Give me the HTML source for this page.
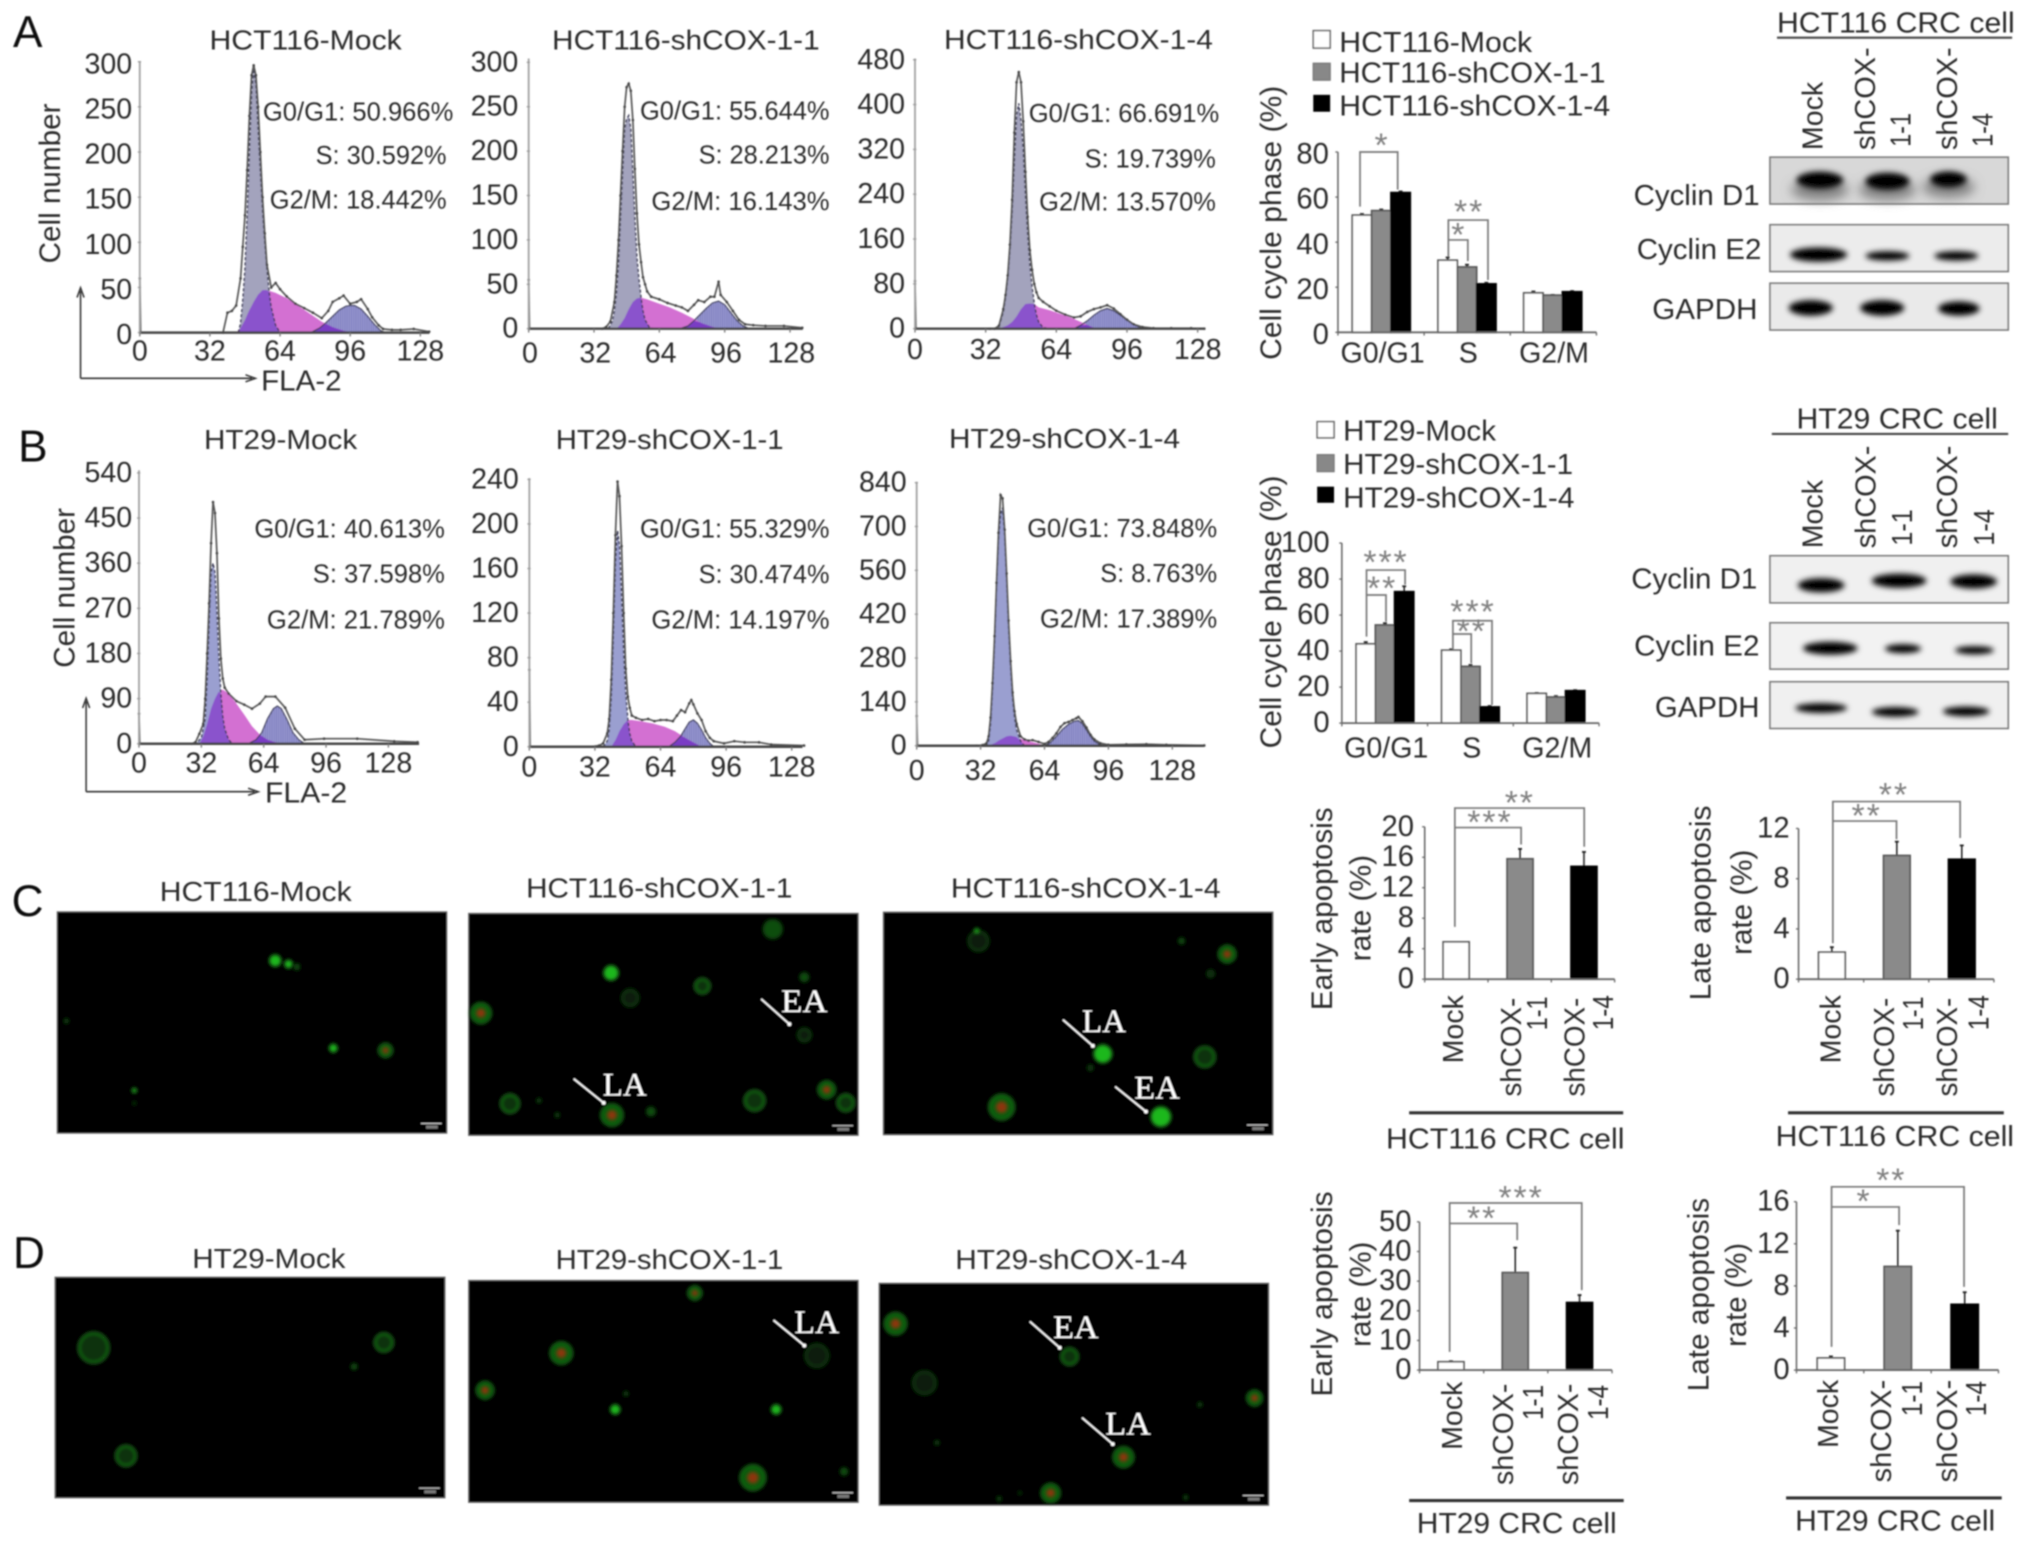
<!DOCTYPE html>
<html lang="en">
<head>
<meta charset="utf-8">
<title>Cell cycle and apoptosis figure</title>
<style>
html,body{margin:0;padding:0;background:#fff;}
svg{display:block;}
text{font-family:"Liberation Sans",sans-serif;fill:#2c2c2c;dominant-baseline:central;}
.title{font-size:21.5px;}
.pct{font-size:20px;}
.letter{font-size:34px;fill:#111;}
.axt{font-size:23px;}
.lbl{font-size:22px;}
.star{font-size:26px;fill:#808080;letter-spacing:1.5px;text-anchor:middle;}
.ann{font-family:"Liberation Serif",serif;font-size:25px;fill:#fff;}
.br{fill:none;stroke:#777;stroke-width:1.3;}
.rule{stroke:#333;stroke-width:2.4;}
.ar{stroke:#fff;stroke-width:1.3;}
.box{stroke:#7a7a7a;stroke-width:1.3;}
.band{fill:#060606;filter:url(#bandBlur);}
</style>
</head>
<body>
<svg xmlns="http://www.w3.org/2000/svg" viewBox="0 0 1562 1190" width="2029" height="1546" preserveAspectRatio="none">
<defs>
<filter id="soft" filterUnits="userSpaceOnUse" x="0" y="0" width="1562" height="1190"><feGaussianBlur stdDeviation="0.55"/></filter>
<filter id="bandBlur" x="-30%" y="-80%" width="160%" height="260%"><feGaussianBlur stdDeviation="2.2"/></filter>
<filter id="smear" x="-30%" y="-80%" width="160%" height="260%"><feGaussianBlur stdDeviation="4"/></filter>
<filter id="cellBlur" x="-60%" y="-60%" width="220%" height="220%"><feGaussianBlur stdDeviation="1.5"/></filter>
<pattern id="hatch" width="1.7" height="4" patternUnits="userSpaceOnUse"><rect width="1.7" height="4" fill="#9c9cd4"/><rect width="0.6" height="4" fill="#6c6cb0"/></pattern>
</defs>
<rect width="1562" height="1190" fill="#fff"/>
<g filter="url(#soft)">

<!-- panel letters -->
<text class="letter" x="10" y="25">A</text>
<text class="letter" x="14" y="344">B</text>
<text class="letter" x="9" y="694">C</text>
<text class="letter" x="10" y="965">D</text>

<!-- histogram layers filled by script -->
<g id="histograms"></g>

<!-- histogram titles -->
<text class="title" x="161.3" y="30.8" textLength="148" lengthAdjust="spacingAndGlyphs">HCT116-Mock</text>
<text class="title" x="425" y="30.8" textLength="206" lengthAdjust="spacingAndGlyphs">HCT116-shCOX-1-1</text>
<text class="title" x="726.7" y="30.3" textLength="207" lengthAdjust="spacingAndGlyphs">HCT116-shCOX-1-4</text>
<text class="title" x="157" y="338.2" textLength="118" lengthAdjust="spacingAndGlyphs">HT29-Mock</text>
<text class="title" x="427.8" y="338.2" textLength="175.4" lengthAdjust="spacingAndGlyphs">HT29-shCOX-1-1</text>
<text class="title" x="730.6" y="337.4" textLength="177.8" lengthAdjust="spacingAndGlyphs">HT29-shCOX-1-4</text>

<!-- histogram percentages -->
<text class="pct" x="202.4" y="86" textLength="146.6" lengthAdjust="spacingAndGlyphs">G0/G1: 50.966%</text>
<text class="pct" x="243" y="119.3" textLength="100.8" lengthAdjust="spacingAndGlyphs">S: 30.592%</text>
<text class="pct" x="207.7" y="153.5" textLength="136.1" lengthAdjust="spacingAndGlyphs">G2/M: 18.442%</text>
<text class="pct" x="492.7" y="85.2" textLength="145.9" lengthAdjust="spacingAndGlyphs">G0/G1: 55.644%</text>
<text class="pct" x="537.8" y="118.8" textLength="100.8" lengthAdjust="spacingAndGlyphs">S: 28.213%</text>
<text class="pct" x="501.5" y="154.7" textLength="137.1" lengthAdjust="spacingAndGlyphs">G2/M: 16.143%</text>
<text class="pct" x="792" y="87" textLength="146.6" lengthAdjust="spacingAndGlyphs">G0/G1: 66.691%</text>
<text class="pct" x="835" y="122" textLength="101" lengthAdjust="spacingAndGlyphs">S: 19.739%</text>
<text class="pct" x="800" y="155" textLength="136" lengthAdjust="spacingAndGlyphs">G2/M: 13.570%</text>
<text class="pct" x="195.8" y="406.7" textLength="146.7" lengthAdjust="spacingAndGlyphs">G0/G1: 40.613%</text>
<text class="pct" x="240.8" y="441.4" textLength="101.7" lengthAdjust="spacingAndGlyphs">S: 37.598%</text>
<text class="pct" x="205.5" y="476.7" textLength="137" lengthAdjust="spacingAndGlyphs">G2/M: 21.789%</text>
<text class="pct" x="492.7" y="406.7" textLength="145.9" lengthAdjust="spacingAndGlyphs">G0/G1: 55.329%</text>
<text class="pct" x="537.8" y="442" textLength="100.8" lengthAdjust="spacingAndGlyphs">S: 30.474%</text>
<text class="pct" x="501.5" y="476.7" textLength="137.1" lengthAdjust="spacingAndGlyphs">G2/M: 14.197%</text>
<text class="pct" x="790.8" y="406.6" textLength="146.2" lengthAdjust="spacingAndGlyphs">G0/G1: 73.848%</text>
<text class="pct" x="847" y="441" textLength="90" lengthAdjust="spacingAndGlyphs">S: 8.763%</text>
<text class="pct" x="800.6" y="476" textLength="136.4" lengthAdjust="spacingAndGlyphs">G2/M: 17.389%</text>

<!-- histogram axis titles and arrows -->
<text class="axt" x="38.9" y="202.7" transform="rotate(-90 38.9 202.7)" textLength="123" lengthAdjust="spacingAndGlyphs">Cell number</text>
<text class="axt" x="50" y="514" transform="rotate(-90 50 514)" textLength="123" lengthAdjust="spacingAndGlyphs">Cell number</text>
<path d="M62 291.2V224M59.3 229L62 221.5L64.7 229M62 291.2H194M189 288.5L196.6 291.2L189 293.9" fill="none" stroke="#333" stroke-width="1.2"/>
<path d="M66.3 609.4V540M63.6 545L66.3 537.5L69 545M66.3 609.4H196M191 606.7L198.8 609.4L191 612.1" fill="none" stroke="#333" stroke-width="1.2"/>
<text class="lbl" x="201" y="293.8" textLength="62" lengthAdjust="spacingAndGlyphs">FLA-2</text>
<text class="lbl" x="204" y="610.7" textLength="63.3" lengthAdjust="spacingAndGlyphs">FLA-2</text>

<!-- bar chart layers filled by script -->
<g id="barcharts"></g>

<!-- phase legends -->
<g>
<rect x="1011" y="23.6" width="13" height="13.4" fill="#fff" stroke="#666" stroke-width="1.2"/>
<rect x="1011" y="48.7" width="13" height="13" fill="#888" stroke="#777" stroke-width="1"/>
<rect x="1011" y="73" width="13" height="13" fill="#000"/>
<text class="lbl" x="1031" y="33" textLength="148.5" lengthAdjust="spacingAndGlyphs">HCT116-Mock</text>
<text class="lbl" x="1031" y="56.5" textLength="205" lengthAdjust="spacingAndGlyphs">HCT116-shCOX-1-1</text>
<text class="lbl" x="1031" y="82" textLength="208.6" lengthAdjust="spacingAndGlyphs">HCT116-shCOX-1-4</text>
</g>
<g>
<rect x="1014" y="324.6" width="13" height="12.4" fill="#fff" stroke="#666" stroke-width="1.2"/>
<rect x="1014" y="350" width="13" height="13" fill="#888" stroke="#777" stroke-width="1"/>
<rect x="1014" y="374.6" width="13" height="12.4" fill="#000"/>
<text class="lbl" x="1034" y="332" textLength="117.7" lengthAdjust="spacingAndGlyphs">HT29-Mock</text>
<text class="lbl" x="1034" y="358" textLength="177" lengthAdjust="spacingAndGlyphs">HT29-shCOX-1-1</text>
<text class="lbl" x="1034" y="383.6" textLength="178" lengthAdjust="spacingAndGlyphs">HT29-shCOX-1-4</text>
</g>

<!-- bar chart titles -->
<text class="axt" x="979" y="277" transform="rotate(-90 979 277)" textLength="211" lengthAdjust="spacingAndGlyphs">Cell cycle phase (%)</text>
<text class="axt" x="979" y="576" transform="rotate(-90 979 576)" textLength="210" lengthAdjust="spacingAndGlyphs">Cell cycle phase (%)</text>
<text class="axt" x="1018" y="777.5" transform="rotate(-90 1018 777.5)" textLength="156" lengthAdjust="spacingAndGlyphs">Early apoptosis</text>
<text class="axt" x="1047.8" y="740" transform="rotate(-90 1047.8 740)" textLength="82" lengthAdjust="spacingAndGlyphs">rate (%)</text>
<text class="axt" x="1309.6" y="770" transform="rotate(-90 1309.6 770)" textLength="150" lengthAdjust="spacingAndGlyphs">Late apoptosis</text>
<text class="axt" x="1341" y="735" transform="rotate(-90 1341 735)" textLength="81" lengthAdjust="spacingAndGlyphs">rate (%)</text>
<text class="axt" x="1018" y="1075" transform="rotate(-90 1018 1075)" textLength="158" lengthAdjust="spacingAndGlyphs">Early apoptosis</text>
<text class="axt" x="1047.8" y="1036.7" transform="rotate(-90 1047.8 1036.7)" textLength="81" lengthAdjust="spacingAndGlyphs">rate (%)</text>
<text class="axt" x="1308" y="1071" transform="rotate(-90 1308 1071)" textLength="149" lengthAdjust="spacingAndGlyphs">Late apoptosis</text>
<text class="axt" x="1337" y="1036.7" transform="rotate(-90 1337 1036.7)" textLength="80" lengthAdjust="spacingAndGlyphs">rate (%)</text>

<!-- significance brackets -->
<g>
<path class="br" d="M1047 159V117H1076V146"/>
<path class="br" d="M1115 197.6V169.4H1145.5V215.5"/>
<path class="br" d="M1115 184.7H1130V201"/>
<path class="br" d="M1052 490V438.8H1081.7V450"/>
<path class="br" d="M1052 458H1067V478.6"/>
<path class="br" d="M1118.5 500V477.8H1148.6V542.7"/>
<path class="br" d="M1118.5 488H1132.6V510.6"/>
<path class="br" d="M1120 713.4V622H1219.6V651.8"/>
<path class="br" d="M1120 637H1171V650"/>
<path class="br" d="M1411 726V617H1509V645"/>
<path class="br" d="M1411 632H1460V646"/>
<path class="br" d="M1116 1040.6V926H1217.7V993"/>
<path class="br" d="M1116 941.7H1168V954.6"/>
<path class="br" d="M1410 1036.7V913.5H1512V990.5"/>
<path class="br" d="M1410 929H1462V943"/>
<text class="star" x="1064" y="112">*</text>
<text class="star" x="1131" y="163">**</text>
<text class="star" x="1123" y="181">*</text>
<text class="star" x="1067" y="433">***</text>
<text class="star" x="1064" y="453">**</text>
<text class="star" x="1134" y="471">***</text>
<text class="star" x="1133" y="486">**</text>
<text class="star" x="1170" y="618">**</text>
<text class="star" x="1147" y="633">***</text>
<text class="star" x="1458" y="612">**</text>
<text class="star" x="1437" y="628">**</text>
<text class="star" x="1171" y="922">***</text>
<text class="star" x="1141" y="938">**</text>
<text class="star" x="1456" y="908.5">**</text>
<text class="star" x="1435" y="924.7">*</text>
</g>

<!-- apoptosis x labels -->
<g>
<text class="lbl" x="1119.4" y="818.5" transform="rotate(-90 1119.4 818.5)">Mock</text>
<text class="lbl" x="1164" y="844" transform="rotate(-90 1164 844)" textLength="76" lengthAdjust="spacingAndGlyphs">shCOX-</text>
<text class="lbl" x="1184" y="793" transform="rotate(-90 1184 793)" textLength="26" lengthAdjust="spacingAndGlyphs">1-1</text>
<text class="lbl" x="1213" y="844" transform="rotate(-90 1213 844)" textLength="76" lengthAdjust="spacingAndGlyphs">shCOX-</text>
<text class="lbl" x="1235" y="793" transform="rotate(-90 1235 793)" textLength="27" lengthAdjust="spacingAndGlyphs">1-4</text>
<text class="lbl" x="1410" y="818.5" transform="rotate(-90 1410 818.5)">Mock</text>
<text class="lbl" x="1451" y="844" transform="rotate(-90 1451 844)" textLength="76" lengthAdjust="spacingAndGlyphs">shCOX-</text>
<text class="lbl" x="1473.4" y="793" transform="rotate(-90 1473.4 793)" textLength="26" lengthAdjust="spacingAndGlyphs">1-1</text>
<text class="lbl" x="1499.8" y="844" transform="rotate(-90 1499.8 844)" textLength="76" lengthAdjust="spacingAndGlyphs">shCOX-</text>
<text class="lbl" x="1524" y="793" transform="rotate(-90 1524 793)" textLength="27" lengthAdjust="spacingAndGlyphs">1-4</text>
<text class="lbl" x="1118.4" y="1116" transform="rotate(-90 1118.4 1116)">Mock</text>
<text class="lbl" x="1158" y="1143" transform="rotate(-90 1158 1143)" textLength="78" lengthAdjust="spacingAndGlyphs">shCOX-</text>
<text class="lbl" x="1181" y="1093" transform="rotate(-90 1181 1093)" textLength="27" lengthAdjust="spacingAndGlyphs">1-1</text>
<text class="lbl" x="1208" y="1143" transform="rotate(-90 1208 1143)" textLength="78" lengthAdjust="spacingAndGlyphs">shCOX-</text>
<text class="lbl" x="1231" y="1093" transform="rotate(-90 1231 1093)" textLength="27" lengthAdjust="spacingAndGlyphs">1-4</text>
<text class="lbl" x="1408" y="1114.6" transform="rotate(-90 1408 1114.6)">Mock</text>
<text class="lbl" x="1449" y="1141" transform="rotate(-90 1449 1141)" textLength="79" lengthAdjust="spacingAndGlyphs">shCOX-</text>
<text class="lbl" x="1472.7" y="1090" transform="rotate(-90 1472.7 1090)" textLength="27" lengthAdjust="spacingAndGlyphs">1-1</text>
<text class="lbl" x="1499.8" y="1141" transform="rotate(-90 1499.8 1141)" textLength="79" lengthAdjust="spacingAndGlyphs">shCOX-</text>
<text class="lbl" x="1522" y="1090" transform="rotate(-90 1522 1090)" textLength="27" lengthAdjust="spacingAndGlyphs">1-4</text>
</g>
<g>
<line class="rule" x1="1084.8" y1="856.6" x2="1249.6" y2="856.6"/>
<line class="rule" x1="1376.5" y1="856.6" x2="1542.6" y2="856.6"/>
<line class="rule" x1="1084.8" y1="1155" x2="1250" y2="1155"/>
<line class="rule" x1="1375" y1="1153" x2="1541" y2="1153"/>
<text class="lbl" x="1067" y="877" textLength="183.6" lengthAdjust="spacingAndGlyphs">HCT116 CRC cell</text>
<text class="lbl" x="1367" y="875" textLength="183.5" lengthAdjust="spacingAndGlyphs">HCT116 CRC cell</text>
<text class="lbl" x="1090.7" y="1173" textLength="153.9" lengthAdjust="spacingAndGlyphs">HT29 CRC cell</text>
<text class="lbl" x="1382" y="1171" textLength="154" lengthAdjust="spacingAndGlyphs">HT29 CRC cell</text>
</g>

<!-- western blots A -->
<g>
<text class="lbl" x="1368" y="18" textLength="183" lengthAdjust="spacingAndGlyphs">HCT116 CRC cell</text>
<line x1="1368" y1="29" x2="1549" y2="29" stroke="#444" stroke-width="1.6"/>
<text class="lbl" x="1396" y="115.5" transform="rotate(-90 1396 115.5)">Mock</text>
<text class="lbl" x="1436.6" y="115.5" transform="rotate(-90 1436.6 115.5)" textLength="79" lengthAdjust="spacingAndGlyphs">shCOX-</text>
<text class="lbl" x="1464" y="113" transform="rotate(-90 1464 113)" textLength="26" lengthAdjust="spacingAndGlyphs">1-1</text>
<text class="lbl" x="1499.6" y="115.5" transform="rotate(-90 1499.6 115.5)" textLength="79" lengthAdjust="spacingAndGlyphs">shCOX-</text>
<text class="lbl" x="1527" y="113" transform="rotate(-90 1527 113)" textLength="26" lengthAdjust="spacingAndGlyphs">1-4</text>
<text class="lbl" x="1257.6" y="151" textLength="97" lengthAdjust="spacingAndGlyphs">Cyclin D1</text>
<text class="lbl" x="1260" y="192.5" textLength="96" lengthAdjust="spacingAndGlyphs">Cyclin E2</text>
<text class="lbl" x="1272" y="238.6" textLength="81" lengthAdjust="spacingAndGlyphs">GAPDH</text>
<rect class="box" x="1362.6" y="121" width="183.4" height="36" fill="#d8d8d8"/>
<ellipse cx="1401" cy="146" rx="22" ry="8" fill="#808080" filter="url(#smear)"/>
<ellipse cx="1453" cy="146" rx="22" ry="8" fill="#808080" filter="url(#smear)"/>
<ellipse cx="1500" cy="144" rx="20" ry="8" fill="#808080" filter="url(#smear)"/>
<ellipse class="band" cx="1401" cy="138.6" rx="18" ry="6.5"/>
<ellipse class="band" cx="1453" cy="139.5" rx="17" ry="6.5"/>
<ellipse class="band" cx="1500" cy="138" rx="14" ry="6"/>
<rect class="box" x="1362.6" y="173" width="183.4" height="36" fill="#ececec"/>
<ellipse class="band" cx="1400" cy="196" rx="22" ry="5.5"/>
<ellipse class="band" cx="1453" cy="197" rx="17" ry="3.6"/>
<ellipse class="band" cx="1506" cy="197" rx="17" ry="3.6"/>
<rect class="box" x="1362.6" y="218" width="183.4" height="36" fill="#eaeaea"/>
<ellipse class="band" cx="1394" cy="237" rx="17" ry="6"/>
<ellipse class="band" cx="1449" cy="237" rx="17" ry="6"/>
<ellipse class="band" cx="1508" cy="237.5" rx="16" ry="5.5"/>
</g>

<!-- western blots B -->
<g>
<text class="lbl" x="1383" y="323" textLength="155" lengthAdjust="spacingAndGlyphs">HT29 CRC cell</text>
<line x1="1364" y1="334" x2="1546" y2="334" stroke="#444" stroke-width="1.6"/>
<text class="lbl" x="1396" y="422" transform="rotate(-90 1396 422)">Mock</text>
<text class="lbl" x="1437" y="422" transform="rotate(-90 1437 422)" textLength="79" lengthAdjust="spacingAndGlyphs">shCOX-</text>
<text class="lbl" x="1465" y="420" transform="rotate(-90 1465 420)" textLength="28" lengthAdjust="spacingAndGlyphs">1-1</text>
<text class="lbl" x="1499.6" y="422" transform="rotate(-90 1499.6 422)" textLength="79" lengthAdjust="spacingAndGlyphs">shCOX-</text>
<text class="lbl" x="1528" y="420" transform="rotate(-90 1528 420)" textLength="28" lengthAdjust="spacingAndGlyphs">1-4</text>
<text class="lbl" x="1255.8" y="446" textLength="97" lengthAdjust="spacingAndGlyphs">Cyclin D1</text>
<text class="lbl" x="1258" y="497.8" textLength="96.5" lengthAdjust="spacingAndGlyphs">Cyclin E2</text>
<text class="lbl" x="1274" y="545" textLength="80.5" lengthAdjust="spacingAndGlyphs">GAPDH</text>
<rect class="box" x="1362.6" y="427.8" width="183.4" height="36.2" fill="#f0f0f0"/>
<ellipse class="band" cx="1402" cy="450.5" rx="18" ry="5.5"/>
<ellipse class="band" cx="1462" cy="447" rx="21" ry="5.5"/>
<ellipse class="band" cx="1519.4" cy="447.6" rx="18" ry="5.5"/>
<rect class="box" x="1362.6" y="479.4" width="183.4" height="35.6" fill="#f2f2f2"/>
<ellipse class="band" cx="1409" cy="499" rx="21" ry="5"/>
<ellipse class="band" cx="1465" cy="499.3" rx="14" ry="3.5"/>
<ellipse class="band" cx="1520" cy="500.5" rx="15" ry="3.2"/>
<rect class="box" x="1362.6" y="524.8" width="183.4" height="35.9" fill="#f0f0f0"/>
<ellipse class="band" cx="1402" cy="545" rx="20" ry="3.8"/>
<ellipse class="band" cx="1459" cy="548" rx="18" ry="3.8"/>
<ellipse class="band" cx="1513.6" cy="547.6" rx="18" ry="3.8"/>
</g>

<!-- fluorescence titles -->
<text class="title" x="123" y="686.4" textLength="147.7" lengthAdjust="spacingAndGlyphs">HCT116-Mock</text>
<text class="title" x="405" y="683.7" textLength="205" lengthAdjust="spacingAndGlyphs">HCT116-shCOX-1-1</text>
<text class="title" x="732" y="683.7" textLength="207.7" lengthAdjust="spacingAndGlyphs">HCT116-shCOX-1-4</text>
<text class="title" x="148" y="968.6" textLength="118" lengthAdjust="spacingAndGlyphs">HT29-Mock</text>
<text class="title" x="427.7" y="969.4" textLength="175.3" lengthAdjust="spacingAndGlyphs">HT29-shCOX-1-1</text>
<text class="title" x="735.4" y="969.4" textLength="178.6" lengthAdjust="spacingAndGlyphs">HT29-shCOX-1-4</text>

<g id="fluorescence"></g>

<!-- fluorescence annotations -->
<g>
<text class="ann" x="601.3" y="771.4" textLength="35.7" lengthAdjust="spacingAndGlyphs">EA</text>
<line class="ar" x1="586" y1="769" x2="607.7" y2="788.3"/><circle cx="607.7" cy="788.3" r="1.5" fill="#fff"/>
<text class="ann" x="464" y="835.4" textLength="33.8" lengthAdjust="spacingAndGlyphs">LA</text>
<line class="ar" x1="441.7" y1="830.4" x2="464.7" y2="848.9"/><circle cx="464.7" cy="848.9" r="1.5" fill="#fff"/>
<text class="ann" x="833" y="786.6" textLength="33.8" lengthAdjust="spacingAndGlyphs">LA</text>
<line class="ar" x1="818.3" y1="784.9" x2="841.3" y2="805"/><circle cx="841.3" cy="805" r="1.5" fill="#fff"/>
<text class="ann" x="873.2" y="837.8" textLength="35" lengthAdjust="spacingAndGlyphs">EA</text>
<line class="ar" x1="858.5" y1="836.4" x2="882.2" y2="855.6"/><circle cx="882.2" cy="855.6" r="1.5" fill="#fff"/>
<text class="ann" x="611.5" y="1018.2" textLength="34.5" lengthAdjust="spacingAndGlyphs">LA</text>
<line class="ar" x1="595.5" y1="1016.2" x2="619.2" y2="1035.7"/><circle cx="619.2" cy="1035.7" r="1.5" fill="#fff"/>
<text class="ann" x="810.7" y="1022.3" textLength="35" lengthAdjust="spacingAndGlyphs">EA</text>
<line class="ar" x1="792.8" y1="1017.2" x2="815.8" y2="1037.4"/><circle cx="815.8" cy="1037.4" r="1.5" fill="#fff"/>
<text class="ann" x="850.9" y="1096.3" textLength="35" lengthAdjust="spacingAndGlyphs">LA</text>
<line class="ar" x1="833" y1="1091.3" x2="856.6" y2="1111.5"/><circle cx="856.6" cy="1111.5" r="1.5" fill="#fff"/>
</g>
</g>
</svg>

<script>
// ---------- histogram values (channel, cell count) ----------
const xTicks = [0, 32, 64, 96, 128];

const a1YTicks = [0, 50, 100, 150, 200, 250, 300];
const a1TotalCh = [0,.4,38,40,42,44,46,47,48,49,50,51,52,53,54,55,56,57,58,60,62,64,67,71,75,79,83,86,88,91,93,96,99,101,104,106,109,111,115,119,125,132];
const a1Total = [60,0,0,22,24,30,60,95,130,180,240,285,296,285,250,200,150,110,75,50,55,48,40,32,27,22,16,24,34,38,41,32,34,37,26,17,8,4,3,3,4,1];
const a1G1Ch = [45,46,47,48,49,50,51,52,53,54,55,56,57,58,59,60,62,64];
const a1G1 = [0,10,35,70,130,200,265,292,275,225,180,135,100,70,45,28,8,0];
const a1SCh = [44,46,48,50,52,54,56,58,62,67,72,77,83,88,93,97];
const a1S = [0,5,14,25,34,42,47,47,44,38,30,22,12,6,2,0];
const a1G2Ch = [78,82,85,88,91,94,96,98,101,104,107,110,112];
const a1G2 = [0,5,11,18,25,29,30,30,26,18,9,2,0];

const a2YTicks = [0, 50, 100, 150, 200, 250, 300];
const a2TotalCh = [0,.4,36,38,40,42,43,44,45,46,47,48,49,50,51,52,53,54,55,56,57,58,60,64,68,72,75,78,81,83,86,89,91,93,94,97,100,103,106,110,116,125,134];
const a2Total = [55,0,0,2,8,30,60,100,150,200,250,272,276,268,235,180,130,95,75,58,50,42,36,33,29,26,24,20,27,32,30,36,36,53,38,30,20,10,5,4,3,3,1];
const a2G1Ch = [39,41,42,43,44,45,46,47,48,49,50,51,52,53,54,55,56,57,59,61];
const a2G1 = [0,8,20,40,75,125,175,225,236,240,225,175,125,80,55,35,20,10,2,0];
const a2SCh = [43,45,47,49,51,53,55,58,63,69,75,80,85,90,94];
const a2S = [0,5,12,22,30,34,35,33,29,24,18,12,6,2,0];
const a2G2Ch = [74,78,81,84,87,90,93,96,99,102,105,108];
const a2G2 = [0,3,9,16,23,29,31,27,18,9,3,0];

const a3YTicks = [0, 80, 160, 240, 320, 400, 480];
const a3TotalCh = [0,.4,34,36,38,40,41,42,43,44,45,46,47,48,49,50,51,52,53,54,55,56,58,61,64,68,72,75,78,81,84,87,90,93,96,99,103,108,116,125,131];
const a3Total = [85,0,0,0,5,35,60,95,150,230,350,440,458,440,370,280,200,140,105,80,65,55,48,40,32,25,20,22,30,35,38,42,36,26,16,8,3,1,1,1,0];
const a3G1Ch = [36,38,40,41,42,43,44,45,46,47,48,49,50,51,52,53,54,55,56,58,61];
const a3G1 = [0,3,30,55,90,140,210,300,380,402,370,320,240,170,115,75,45,25,12,2,0];
const a3SCh = [38,42,44,46,48,50,52,54,56,61,66,71,75,79,82];
const a3S = [0,6,12,22,35,44,45,44,38,33,26,19,12,5,0];
const a3G2Ch = [72,75,78,81,84,87,90,93,96,99,103,108];
const a3G2 = [0,6,14,24,32,36,32,24,15,7,1,0];

const b1YTicks = [0, 90, 180, 270, 360, 450, 540];
const b1TotalCh = [0,.4,27,29,31,33,34,35,36,37,38,39,40,41,42,43,44,46,50,54,58,62,65,70,75,80,85,95,112,131,143];
const b1Total = [60,0,0,3,20,40,90,180,280,400,482,460,380,250,170,130,112,100,85,78,70,80,94,94,72,30,8,10,10,5,3];
const b1G1Ch = [28,30,32,34,35,36,37,38,39,40,41,42,43,44,46,48];
const b1G1 = [0,3,12,50,130,240,340,360,340,260,170,100,55,30,8,0];
const b1SCh = [31,33,35,37,39,41,43,46,50,54,58,62,66,70,75];
const b1S = [0,15,40,70,90,104,108,100,80,58,35,18,8,3,0];
const b1G2Ch = [56,60,63,66,69,71,73,76,79,82,85];
const b1G2 = [0,8,22,50,70,75,70,48,22,8,0];

const b2YTicks = [0, 40, 80, 120, 160, 200, 240];
const b2TotalCh = [0,.4,30,34,36,38,39,40,41,42,43,44,45,46,47,48,49,50,52,55,58,61,64,67,70,72,74,76,78,79,80,82,84,86,88,90,95,100,105,112,118,134];
const b2Total = [69,0,0,1,3,12,25,60,120,190,238,225,180,120,70,45,35,28,26,24,25,23,24,24,23,28,33,31,39,42,38,30,24,14,8,5,3,5,4,4,2,1];
const b2G1Ch = [36,38,39,40,41,42,43,44,45,46,47,48,49,50,52];
const b2G1 = [0,5,15,45,100,165,194,180,135,85,48,25,12,5,0];
const b2SCh = [40,42,44,46,48,50,54,60,66,71,76,80,84];
const b2S = [0,6,14,20,24,24,23,21,18,14,8,4,0];
const b2G2Ch = [68,71,74,76,78,80,82,84,86,88,90];
const b2G2 = [0,4,10,16,22,24,21,15,8,3,0];

const b3YTicks = [0, 140, 280, 420, 560, 700, 840];
const b3TotalCh = [0,.4,30,33,35,36,37,38,39,40,41,42,43,44,45,46,47,48,49,50,52,54,56,58,61,64,66,68,70,72,74,76,78,80,81,83,85,87,89,92,96,105,115,125,144];
const b3Total = [95,0,0,2,8,30,90,200,350,520,680,800,790,690,550,400,270,170,110,70,30,20,16,18,12,6,12,25,40,60,72,76,82,88,92,78,58,35,20,8,3,4,5,3,1];
const b3G1Ch = [34,36,37,38,39,40,41,42,43,44,45,46,47,48,49,50,52,54];
const b3G1 = [0,15,70,180,330,510,660,740,760,670,530,380,250,150,90,50,15,0];
const b3SCh = [36,39,42,45,47,50,53,56,59,62,65];
const b3S = [0,8,20,30,32,28,20,14,10,4,0];
const b3G2Ch = [64,67,70,73,76,79,81,83,85,87,89,92,94];
const b3G2 = [0,10,30,52,68,78,80,70,50,30,14,3,0];

// ---------- bar chart values ----------
const phaseCategories = ['G0/G1', 'S', 'G2/M'];
const phaseYTicksA = [0, 20, 40, 60, 80];
const phaseYTicksB = [0, 20, 40, 60, 80, 100];
const hct116PhaseMock = [52, 32, 17.5];
const hct116PhaseSh11 = [54, 29, 16.5];
const hct116PhaseSh14 = [62, 21.5, 18];
const hct116PhaseMockErr = [0.5, 1.2, 0.6];
const hct116PhaseSh11Err = [0.5, 1, 0.1];
const hct116PhaseSh14Err = [0.5, 0.5, 0.3];
const ht29PhaseMock = [44, 40.5, 16.5];
const ht29PhaseSh11 = [54.5, 31.5, 14.5];
const ht29PhaseSh14 = [73, 9, 18];
const ht29PhaseMockErr = [1, 0.5, 0.2];
const ht29PhaseSh11Err = [1, 0.8, 0.5];
const ht29PhaseSh14Err = [3, 0.5, 0.3];

const earlyHct116Ticks = [0, 4, 8, 12, 16, 20];
const earlyHct116 = [4.9, 15.8, 14.8];
const earlyHct116Err = [0, 1.3, 1.9];
const lateHct116Ticks = [0, 4, 8, 12];
const lateHct116 = [2.15, 9.85, 9.55];
const lateHct116Err = [0.4, 1.1, 1.1];
const earlyHt29Ticks = [0, 10, 20, 30, 40, 50];
const earlyHt29 = [2.8, 32.9, 22.8];
const earlyHt29Err = [0.2, 8.4, 2.5];
const lateHt29Ticks = [0, 4, 8, 12, 16];
const lateHt29 = [1.15, 9.85, 6.25];
const lateHt29Err = [0.15, 3.4, 1.15];

// ---------- fluorescence cells: [x, y, radius, kind] in micrograph sketch units ----------
const fluorImages = [
  {n:'hct116-mock', x:44, y:701.8, w:300, h:170.5, bg:'#000', cells:[[332,230,7,'g'],[348,238,5,'g'],[358,244,4,'d'],[80,368,3,'d'],[402,430,5,'g'],[465,435,8,'o'],[162,527,3,'g'],[162,556,2,'d']]},
  {n:'hct116-shcox-1-1', x:360.7, y:703, w:300, h:171, bg:'#000', cells:[[932,158,12,'d'],[737,258,9,'g'],[847,288,9,'r'],[760,315,10,'k'],[970,268,6,'d'],[580,350,12,'o'],[970,400,8,'k'],[615,557,11,'r'],[650,550,3,'d'],[738,583,13,'o'],[785,575,6,'d'],[672,583,3,'d'],[910,550,12,'r'],[997,525,10,'o'],[1020,555,10,'r']]},
  {n:'hct116-shcox-1-4', x:680, y:702, w:300, h:171.5, bg:'#060101', cells:[[1180,185,12,'k'],[1178,162,3,'g'],[1425,185,4,'d'],[1480,215,10,'o'],[1460,260,4,'k'],[1330,443,11,'g'],[1453,450,12,'r'],[1208,565,15,'o'],[1400,587,12,'g'],[1315,475,3,'k']]},
  {n:'ht29-mock', x:42.3, y:983, w:300.3, h:170, bg:'#000', cells:[[113,1115,18,'r'],[463,1103,11,'r'],[427,1158,4,'d'],[152,1362,12,'r']]},
  {n:'ht29-shcox-1-1', x:360.7, y:985.5, w:300, h:171, bg:'#000', cells:[[838,990,8,'o'],[677,1127,13,'o'],[985,1133,14,'k'],[585,1212,10,'o'],[742,1256,6,'g'],[936,1256,6,'g'],[908,1412,15,'o'],[1018,1398,5,'d'],[755,1220,3,'d']]},
  {n:'ht29-shcox-1-4', x:676.7, y:987.7, w:300, h:171, bg:'#000', cells:[[1080,1060,13,'o'],[1290,1135,10,'r'],[1115,1195,14,'k'],[1513,1230,9,'o'],[1355,1365,12,'o'],[1267,1447,11,'o'],[1130,1332,3,'d'],[1430,1457,3,'d'],[1447,1245,3,'d'],[1205,1460,3,'d'],[1230,1447,2,'d']]}
];

// ---------- drawing helpers ----------
const SVGNS = 'http://www.w3.org/2000/svg';
function mk(parent, tag, name, attrs, txt) {
  const el = document.createElementNS(SVGNS, tag);
  
  
  for (const k in attrs) el.setAttribute(k, attrs[k]);
  if (txt !== undefined) el.textContent = txt;
  parent.appendChild(el);
  return el;
}
function interp(chs, vals, c) {
  if (c <= chs[0] || c >= chs[chs.length - 1]) return 0;
  for (let i = 1; i < chs.length; i++) {
    if (c <= chs[i]) {
      const t = (c - chs[i - 1]) / (chs[i] - chs[i - 1]);
      return vals[i - 1] + t * (vals[i] - vals[i - 1]);
    }
  }
  return 0;
}
function overlap(ch1, v1, ch2, v2) {
  const all = Array.from(new Set(ch1.concat(ch2))).sort(function (a, b) { return a - b; });
  return { ch: all, v: all.map(function (c) { return Math.min(interp(ch1, v1, c), interp(ch2, v2, c)); }) };
}

function drawHistogram(p) {
  const root = document.getElementById('histograms');
  const g = mk(root, 'g', 'histogram-' + p.name, {});
  const top = p.yTicks[p.yTicks.length - 1];
  const ppu = (p.y0 - p.topTickY) / top;
  const xS = function (c) { return p.x0 + c / 32 * p.per32; };
  const yS = function (v) { return p.y0 - v * ppu; };
  const pts = function (chs, vals) { return chs.map(function (c, i) { return xS(c).toFixed(1) + ',' + yS(vals[i]).toFixed(1); }).join(' '); };
  const area = function (chs, vals) { return xS(chs[0]).toFixed(1) + ',' + p.y0 + ' ' + pts(chs, vals) + ' ' + xS(chs[chs.length - 1]).toFixed(1) + ',' + p.y0; };

  mk(g, 'polygon', 'g2m-phase-area', { points: area(p.g2Ch, p.g2), fill: 'url(#hatch)' });
  mk(g, 'polygon', 's-phase-area', { points: area(p.sCh, p.s), fill: '#d36fd2' });
  mk(g, 'polygon', 'g0g1-phase-area', { points: area(p.g1Ch, p.g1), fill: p.g1Fill });
  const o1 = overlap(p.g1Ch, p.g1, p.sCh, p.s);
  mk(g, 'polygon', 'g1-s-overlap-area', { points: area(o1.ch, o1.v), fill: '#8a52cc' });
  const o2 = overlap(p.g2Ch, p.g2, p.sCh, p.s);
  mk(g, 'polygon', 's-g2-overlap-area', { points: area(o2.ch, o2.v), fill: '#7a3cc4' });
  mk(g, 'polyline', 'g0g1-phase-curve', { points: pts(p.g1Ch, p.g1), fill: 'none', stroke: '#3a3a55', 'stroke-width': 1.1, 'stroke-dasharray': '2.5 1.5' });
  mk(g, 'polyline', 'g2m-phase-curve', { points: pts(p.g2Ch, p.g2), fill: 'none', stroke: '#3a3a55', 'stroke-width': 0.9 });
  mk(g, 'polyline', 'total-count-curve', { points: pts(p.totalCh, p.total), fill: 'none', stroke: '#555', 'stroke-width': 1.3 });
  p.totalCh.forEach(function (c, i) {
    mk(g, 'circle', 'total-count-point', { cx: xS(c).toFixed(1), cy: yS(p.total[i]).toFixed(1), r: 1, fill: '#444' });
  });

  mk(g, 'line', 'y-axis-line', { x1: p.x0, y1: p.axisTop, x2: p.x0, y2: p.y0, stroke: '#a2a2a2', 'stroke-width': 1.4 });
  mk(g, 'line', 'x-axis-line', { x1: p.x0, y1: p.y0, x2: p.xEnd, y2: p.y0, stroke: '#444', 'stroke-width': 1.9 });
  p.yTicks.forEach(function (t) {
    mk(g, 'line', 'y-tick', { x1: p.x0 - 1.5, x2: p.x0 + 1, y1: yS(t), y2: yS(t), stroke: '#999', 'stroke-width': 1 });
    mk(g, 'text', 'y-tick-label', { class: 'lbl', x: p.labelRight, y: yS(t) + p.labelDy, 'text-anchor': 'end' }, String(t));
  });
  xTicks.forEach(function (t) {
    mk(g, 'line', 'x-tick', { x1: xS(t), x2: xS(t), y1: p.y0, y2: p.y0 + 3, stroke: '#777', 'stroke-width': 1 });
    mk(g, 'text', 'x-tick-label', { class: 'lbl', x: xS(t) + p.xLabelDx, y: p.xLabelY, 'text-anchor': 'middle' }, String(t));
  });
}

function drawBars(c) {
  const root = document.getElementById('barcharts');
  const g = mk(root, 'g', 'bar-chart-' + c.name, {});
  const top = c.yTicks[c.yTicks.length - 1];
  const yS = function (v) { return c.y0 - v / top * (c.y0 - c.topY); };
  c.series.forEach(function (vals, j) {
    vals.forEach(function (v, i) {
      const x = c.start + i * c.step + j * c.barW;
      const w = c.barW;
      const xm = x + w / 2;
      const fill = c.fills[c.fillByCategory ? i : j];
      const err = c.errs[j][i];
      if (err > 0) {
        mk(g, 'line', 'error-bar', { x1: xm, x2: xm, y1: yS(v), y2: yS(v + err), stroke: '#222', 'stroke-width': 1.2 });
        mk(g, 'line', 'error-cap', { x1: xm - 1.5, x2: xm + 1.5, y1: yS(v + err), y2: yS(v + err), stroke: '#222', 'stroke-width': 1.4 });
      }
      mk(g, 'rect', 'bar', { x: x, y: yS(v), width: w, height: c.y0 - yS(v), fill: fill, stroke: fill === '#000' ? '#000' : '#555', 'stroke-width': 1.3 });
    });
  });
  mk(g, 'line', 'y-axis-line', { x1: c.axisX, y1: c.topY, x2: c.axisX, y2: c.y0, stroke: '#666', 'stroke-width': 1.2 });
  mk(g, 'line', 'x-axis-line', { x1: c.axisX, y1: c.y0, x2: c.xEnd, y2: c.y0, stroke: '#666', 'stroke-width': 1.4 });
  c.yTicks.forEach(function (t) {
    mk(g, 'line', 'y-tick', { x1: c.axisX - 2, x2: c.axisX, y1: yS(t), y2: yS(t), stroke: '#666', 'stroke-width': 1 });
    mk(g, 'text', 'y-tick-label', { class: 'lbl', x: c.labelRight, y: yS(t) + c.labelDy, 'text-anchor': 'end', style: 'font-size:22.5px' }, String(t));
  });
  for (let k = 0; k <= 3; k++) {
    const tx = c.axisX + k * (c.xEnd - c.axisX) / 3;
    mk(g, 'line', 'x-tick', { x1: tx, x2: tx, y1: c.y0, y2: c.y0 + 2.5, stroke: '#666', 'stroke-width': 1 });
  }
  if (c.categories) {
    c.categories.forEach(function (cat, i) {
      mk(g, 'text', 'x-category-label', { class: 'lbl', x: c.start + i * c.step + 1.5 * c.barW + c.catDx, y: c.catY, 'text-anchor': 'middle' }, cat);
    });
  }
}

const cellStyle = {
  g: { fill: '#1cb81c', stroke: 'none', core: null },
  d: { fill: '#0b4d0b', stroke: 'none', core: null },
  k: { fill: '#071c07', stroke: '#0f4a0f', core: null },
  r: { fill: '#0a300a', stroke: '#1e8a1e', core: null },
  o: { fill: '#115a11', stroke: '#187a18', core: '#8c3510' }
};
function drawFluor() {
  const root = document.getElementById('fluorescence');
  fluorImages.forEach(function (im) {
    const g = mk(root, 'g', 'micrograph-' + im.n, {});
    mk(g, 'rect', 'micrograph-background', { x: im.x, y: im.y, width: im.w, height: im.h, fill: im.bg, stroke: '#777', 'stroke-width': 0.8 });
    im.cells.forEach(function (c) {
      const s = cellStyle[c[3]];
      const cx = c[0] / 1.5666, cy = 662 + c[1] / 2.97, r = c[2] / 1.5666;
      mk(g, 'circle', 'fluorescent-cell', { cx: cx.toFixed(1), cy: cy.toFixed(1), r: r.toFixed(1), fill: s.fill, stroke: s.stroke, 'stroke-width': 1.2, filter: 'url(#cellBlur)' });
      if (s.core) {
        mk(g, 'circle', 'cell-red-nucleus', { cx: cx.toFixed(1), cy: cy.toFixed(1), r: (r * 0.45).toFixed(1), fill: s.core, filter: 'url(#cellBlur)' });
      }
    });
    const rx = im.x + im.w;
    const by = im.y + im.h;
    mk(g, 'line', 'scale-bar', { x1: rx - 20, x2: rx - 4, y1: by - 7.5, y2: by - 7.5, stroke: '#ccc', 'stroke-width': 0.9 });
    mk(g, 'rect', 'scale-bar-label', { x: rx - 16, y: by - 6, width: 9, height: 2.5, fill: '#777' });
  });
}

drawHistogram({ name:'hct116-mock', x0:107.6, per32:54, y0:256, topTickY:47.5, axisTop:47, xEnd:330.6, labelRight:101.7, labelDy:2, xLabelY:270.7, xLabelDx:0, g1Fill:'#a3a3bd', yTicks:a1YTicks, totalCh:a1TotalCh, total:a1Total, g1Ch:a1G1Ch, g1:a1G1, sCh:a1SCh, s:a1S, g2Ch:a1G2Ch, g2:a1G2 });
drawHistogram({ name:'hct116-shcox-1-1', x0:407, per32:50.3, y0:253, topTickY:48, axisTop:45, xEnd:618, labelRight:399, labelDy:0, xLabelY:272, xLabelDx:1, g1Fill:'#a3a3bd', yTicks:a2YTicks, totalCh:a2TotalCh, total:a2Total, g1Ch:a2G1Ch, g1:a2G1, sCh:a2SCh, s:a2S, g2Ch:a2G2Ch, g2:a2G2 });
drawHistogram({ name:'hct116-shcox-1-4', x0:704.4, per32:54.4, y0:253, topTickY:46, axisTop:45, xEnd:927.8, labelRight:696.7, labelDy:0, xLabelY:269.5, xLabelDx:0, g1Fill:'#a3a3bd', yTicks:a3YTicks, totalCh:a3TotalCh, total:a3Total, g1Ch:a3G1Ch, g1:a3G1, sCh:a3SCh, s:a3S, g2Ch:a3G2Ch, g2:a3G2 });
drawHistogram({ name:'ht29-mock', x0:107, per32:48, y0:572.5, topTickY:364, axisTop:362, xEnd:322.6, labelRight:101.7, labelDy:0, xLabelY:587.6, xLabelDx:0, g1Fill:'#9a9fd0', yTicks:b1YTicks, totalCh:b1TotalCh, total:b1Total, g1Ch:b1G1Ch, g1:b1G1, sCh:b1SCh, s:b1S, g2Ch:b1G2Ch, g2:b1G2 });
drawHistogram({ name:'ht29-shcox-1-1', x0:407.5, per32:50.5, y0:574.8, topTickY:369, axisTop:368, xEnd:617.8, labelRight:399.4, labelDy:0, xLabelY:590.7, xLabelDx:0, g1Fill:'#9a9fd0', yTicks:b2YTicks, totalCh:b2TotalCh, total:b2Total, g1Ch:b2G1Ch, g1:b2G1, sCh:b2SCh, s:b2S, g2Ch:b2G2Ch, g2:b2G2 });
drawHistogram({ name:'ht29-shcox-1-4', x0:705.7, per32:49.2, y0:574, topTickY:371.5, axisTop:370.8, xEnd:927, labelRight:698, labelDy:0, xLabelY:593.3, xLabelDx:0, g1Fill:'#9a9fd0', yTicks:b3YTicks, totalCh:b3TotalCh, total:b3Total, g1Ch:b3G1Ch, g1:b3G1, sCh:b3SCh, s:b3S, g2Ch:b3G2Ch, g2:b3G2 });

const phaseFills = ['#fff', '#8a8a8a', '#000'];
drawBars({ name:'cell-cycle-hct116', axisX:1030, y0:255.8, topY:117, xEnd:1229, start:1041, step:66, barW:14.9, labelRight:1023, labelDy:2, yTicks:phaseYTicksA, categories:phaseCategories, catDx:1, catY:272, fills:phaseFills,
  series:[hct116PhaseMock, hct116PhaseSh11, hct116PhaseSh14], errs:[hct116PhaseMockErr, hct116PhaseSh11Err, hct116PhaseSh14Err] });
drawBars({ name:'cell-cycle-ht29', axisX:1033, y0:556.6, topY:418, xEnd:1231, start:1044, step:65.8, barW:14.8, labelRight:1023.6, labelDy:0, yTicks:phaseYTicksB, categories:phaseCategories, catDx:1, catY:576, fills:phaseFills,
  series:[ht29PhaseMock, ht29PhaseSh11, ht29PhaseSh14], errs:[ht29PhaseMockErr, ht29PhaseSh11Err, ht29PhaseSh14Err] });
drawBars({ name:'early-apoptosis-hct116', axisX:1096.8, y0:753.7, topY:636.4, xEnd:1243, start:1111, step:49.2, barW:20, labelRight:1088.6, labelDy:0, yTicks:earlyHct116Ticks, fillByCategory:true, fills:phaseFills,
  series:[earlyHct116], errs:[earlyHct116Err] });
drawBars({ name:'late-apoptosis-hct116', axisX:1384.6, y0:753.7, topY:637.7, xEnd:1535, start:1400, step:50, barW:20.5, labelRight:1377.7, labelDy:0, yTicks:lateHct116Ticks, fillByCategory:true, fills:phaseFills,
  series:[lateHct116], errs:[lateHct116Err] });
drawBars({ name:'early-apoptosis-ht29', axisX:1092.8, y0:1054.6, topY:940.5, xEnd:1241, start:1107, step:49.5, barW:20, labelRight:1086.6, labelDy:0, yTicks:earlyHt29Ticks, fillByCategory:true, fills:phaseFills,
  series:[earlyHt29], errs:[earlyHt29Err] });
drawBars({ name:'late-apoptosis-ht29', axisX:1383, y0:1054.6, topY:925, xEnd:1538.5, start:1399, step:51.5, barW:21, labelRight:1377.7, labelDy:0, yTicks:lateHt29Ticks, fillByCategory:true, fills:phaseFills,
  series:[lateHt29], errs:[lateHt29Err] });

drawFluor();
</script>
</body>
</html>
